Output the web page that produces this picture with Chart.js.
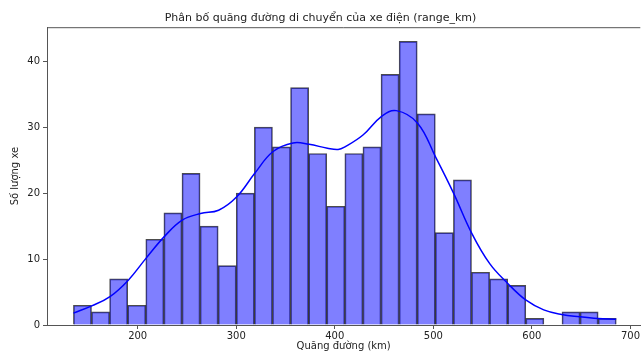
<!DOCTYPE html>
<html>
<head>
<meta charset="utf-8">
<script src="https://cdn.jsdelivr.net/npm/chart.js@4.4.1/dist/chart.umd.min.js"></script>
<style>
  html, body { margin: 0; padding: 0; background: #fff; }
  #wrap { width: 641px; height: 352px; position: relative; }
</style>
</head>
<body>
<div id="wrap"><canvas id="rangeChart"></canvas></div>
<script>
// histogram bins (km)
const binStart = 134.8;
const binWidth = 18.36;
const binCounts = [3, 2, 7, 3, 13, 17, 23, 15, 9, 20, 30, 27, 36, 26, 18, 26, 27, 38, 43, 32, 14, 22, 8, 7, 6, 1, 0, 2, 2, 1];

// KDE curve
const kdeX = [134.8, 153.4, 171.9, 190.5, 208.4, 227.0, 245.2, 263.8, 282.1, 300.3, 318.8, 337.4, 357.6, 373.9, 392.5, 403.4, 410.3, 428.6, 447.2, 462.4, 484.0, 502.2, 520.5, 539.0, 557.2, 575.5, 593.7, 612.0, 630.2, 648.4, 666.7, 685.5];
const kdeY = [1.8, 2.9, 4.3, 6.8, 10.1, 13.4, 15.9, 16.9, 17.4, 19.4, 23, 26.3, 27.6, 27.4, 26.8, 26.6, 27.0, 28.8, 31.6, 32.5, 30.6, 25.5, 20, 13.9, 9.3, 6.3, 3.8, 2.3, 1.6, 1.26, 1.0, 0.86];

const xTicks = [200, 300, 400, 500, 600, 700];
const yTicks = [0, 10, 20, 30, 40];

const barPoints = binCounts.map((c, i) => ({ x: binStart + binWidth * (i + 0.5), y: c }));
const kdePoints = kdeX.map((x, i) => ({ x: x, y: kdeY[i] }));

const font = { family: "'DejaVu Sans', sans-serif", size: 10 };
const axisColor = "#555";

const frame = {
  id: "frame",
  afterDatasetsDraw(chart) {
    const a = chart.chartArea;
    const ctx = chart.ctx;
    ctx.save();
    ctx.strokeStyle = axisColor;
    ctx.lineWidth = 1;
    ctx.beginPath();
    ctx.moveTo(a.left, a.top + 0.5);
    ctx.lineTo(a.right, a.top + 0.5);
    ctx.stroke();
    ctx.restore();
  },
};

new Chart(document.getElementById("rangeChart"), {
  type: "bar",
  data: {
    datasets: [
      {
        type: "line",
        label: "KDE",
        data: kdePoints,
        borderColor: "#0000ff",
        borderWidth: 1.5,
        pointRadius: 0,
        tension: 0.4,
        fill: false,
        order: 0,
      },
      {
        label: "Số lượng xe",
        data: barPoints,
        backgroundColor: "rgba(0, 0, 255, 0.5)",
        borderColor: "rgba(0, 0, 0, 0.7)",
        borderWidth: 1,
        barPercentage: 1,
        categoryPercentage: 1,
        order: 1,
      },
    ],
  },
  options: {
    responsive: true,
    maintainAspectRatio: false,
    animation: false,
    layout: { padding: { left: 0, right: 0, top: 0, bottom: 0 } },
    plugins: {
      legend: { display: false },
      tooltip: { enabled: false },
      title: {
        display: true,
        text: "Phân bố quãng đường di chuyển của xe điện (range_km)",
        color: "#222",
        font: { family: "'DejaVu Sans', sans-serif", size: 11, weight: "normal" },
        padding: { top: 12, bottom: 2 },
      },
    },
    scales: {
      x: {
        type: "linear",
        offset: false,
        min: 108,
        max: 710,
        afterBuildTicks: (scale) => { scale.ticks = xTicks.map((v) => ({ value: v, label: String(v) })); },
        afterFit: (scale) => { scale.height = 27; },
        ticks: { color: "#222", font: font, padding: 1, maxRotation: 0, autoSkip: false },
        grid: { display: true, offset: false, drawOnChartArea: false, drawTicks: true, tickLength: 4, color: axisColor },
        border: { display: true, color: axisColor },
        title: {
          display: true,
          text: "Quãng đường (km)",
          color: "#222",
          font: font,
          padding: { top: 0, bottom: 0 },
        },
      },
      y: {
        min: 0,
        max: 45.15,
        afterBuildTicks: (scale) => { scale.ticks = yTicks.map((v) => ({ value: v, label: String(v) })); },
        afterFit: (scale) => { scale.width = 47; },
        ticks: { color: "#222", font: font, padding: 3 },
        grid: { display: true, drawOnChartArea: false, drawTicks: true, tickLength: 4, color: axisColor },
        border: { display: true, color: axisColor },
        title: {
          display: true,
          text: "Số lượng xe",
          color: "#222",
          font: font,
          padding: { top: 9, bottom: 0 },
        },
      },
    },
  },
  plugins: [frame],
});
</script>
</body>
</html>
